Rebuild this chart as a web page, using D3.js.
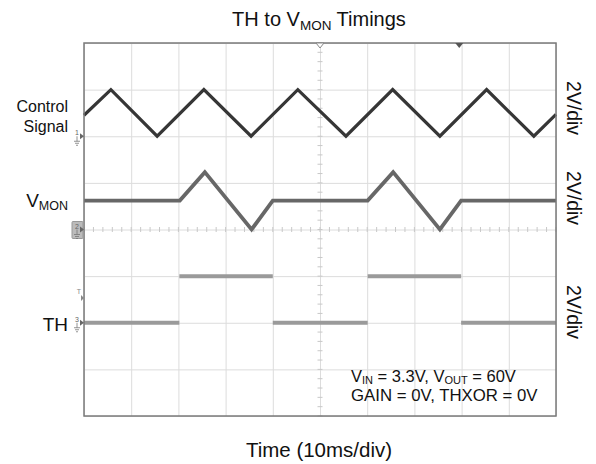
<!DOCTYPE html>
<html><head><meta charset="utf-8">
<script src="https://cdn.jsdelivr.net/npm/d3@7"></script>
<style>body{margin:0;background:#fff}svg{display:block;font-family:"Liberation Sans",Arial,sans-serif}</style>
</head><body><svg id="c" width="596" height="464"></svg>
<script>
// time in ms, voltage in V
const ctrlTime = [-50, -44.3, -34.5, -24.6, -14.6, -4.7, 5.5, 15.4, 25.4, 35.3, 45.3, 50];
const ctrlVolt = [0.9, 2, 0, 2, 0, 2, 0, 2, 0, 2, 0, 0.94];
const vmonTime = [-50, -29.7, -24.4, -14.5, -10, 10.1, 15.5, 25.4, 29.9, 50];
const vmonVolt = [1.24, 1.24, 2.46, 0, 1.24, 1.24, 2.46, 0, 1.24, 1.24];
const thTime = [-50, -29.8, -10, 10.1, 29.9, 50];
const thVolt = [0, 2, 0, 2, 0];
const xTicks = [-50, -40, -30, -20, -10, 0, 10, 20, 30, 40, 50];
const yTicks = [-4, -3, -2, -1, 0, 1, 2, 3, 4];
const channelOffsets = [2, 0, -2]; // divisions
const voltsPerDiv = 2;

const svg = d3.select("#c");
const L = 84, R = 556, T = 43, B = 416;
const x = d3.scaleLinear().domain([-50, 50]).range([L, R]);
const y = d3.scaleLinear().domain([-4, 4]).range([B, T]);

// grid
const g = svg.append("g");
g.append("g").attr("transform", `translate(0,${B})`)
  .call(d3.axisBottom(x).tickValues(xTicks).tickSize(-(B - T)).tickFormat(""))
  .call(s => s.select(".domain").remove())
  .call(s => s.selectAll("line").attr("stroke", "#dcdcdc").attr("stroke-width", 1));
g.append("g").attr("transform", `translate(${L},0)`)
  .call(d3.axisLeft(y).tickValues(yTicks).tickSize(-(R - L)).tickFormat(""))
  .call(s => s.select(".domain").remove())
  .call(s => s.selectAll("line").attr("stroke", "#dcdcdc").attr("stroke-width", 1));

// minor ticks on centre lines
const minorX = d3.range(-50, 50.01, 2);
g.selectAll(".mx").data(minorX).join("line")
  .attr("x1", d => x(d)).attr("x2", d => x(d))
  .attr("y1", y(0) - 2.5).attr("y2", y(0) + 2.5).attr("stroke", "#c8c8c8");
const minorY = d3.range(-4, 4.01, 0.2);
g.selectAll(".my").data(minorY).join("line")
  .attr("x1", x(0) - 2.5).attr("x2", x(0) + 2.5)
  .attr("y1", d => y(d)).attr("y2", d => y(d)).attr("stroke", "#c8c8c8");

// traces
const toY = ch => v => y(v / voltsPerDiv + channelOffsets[ch]);
function trace(times, volts, ch, color, w) {
  const pts = times.map((t, i) => [t, volts[i]]);
  const line = d3.line().x(d => x(d[0])).y(d => toY(ch)(d[1]));
  svg.append("path").datum(pts).attr("d", line).attr("fill", "none")
    .attr("stroke", color).attr("stroke-width", w).attr("stroke-linejoin", "miter");
}
// TH: digital levels, edges too fast to show
const thSegs = thVolt.map((v, i) => [[thTime[i], v], [thTime[i + 1], v]]);
svg.selectAll(".th").data(thSegs).join("path")
  .attr("d", d3.line().x(d => x(d[0])).y(d => toY(2)(d[1])))
  .attr("fill", "none").attr("stroke", "#9a9a9a").attr("stroke-width", 4);
trace(vmonTime, vmonVolt, 1, "#676767", 3.8);
trace(ctrlTime, ctrlVolt, 0, "#363636", 3.2);

// border
svg.append("rect").attr("x", L).attr("y", T).attr("width", R - L).attr("height", B - T)
  .attr("fill", "none").attr("stroke", "#7a7a7a").attr("stroke-width", 1.5);

// top markers
svg.append("path").attr("d", `M${x(0) - 4},${T} L${x(0) + 4},${T} L${x(0)},${T + 5} Z`)
  .attr("fill", "#fff").attr("stroke", "#888");
svg.append("path").attr("d", `M${x(29.5) - 4},${T} L${x(29.5) + 4},${T} L${x(29.5)},${T + 5} Z`)
  .attr("fill", "#555");

// ground markers
function gnd(ch, label, boxed) {
  const yy = y(channelOffsets[ch]);
  const gg = svg.append("g").attr("transform", `translate(${L},${yy})`);
  if (boxed) gg.append("rect").attr("x", -12).attr("y", -8).attr("width", 11).attr("height", 17)
    .attr("fill", "#bbb").attr("stroke", "#999").attr("rx", 1);
  gg.append("text").attr("x", -9).attr("y", -1).attr("font-size", 7).attr("fill", "#666").text(label);
  gg.append("path").attr("d", "M-4,-3 L0,0 L-4,3 Z").attr("fill", "#666");
  gg.append("path").attr("d", "M-7,0 V5 M-10,5 H-4 M-9,7 H-5 M-8,9 H-6").attr("stroke", "#777").attr("stroke-width", 0.8);
}
gnd(0, "1", false);
gnd(1, "2", true);
gnd(2, "3", false);
// T marker
svg.append("text").attr("x", L - 5).attr("y", 294).attr("font-size", 7).attr("fill", "#888").attr("text-anchor", "middle").text("T");
svg.append("path").attr("d", `M${L - 3},${295} L${L},${298} L${L - 3},${301} Z`).attr("fill", "#888");

// title
const title = svg.append("text").attr("x", 319).attr("y", 26).attr("text-anchor", "middle").attr("font-size", 20).attr("fill", "#111");
title.append("tspan").text("TH to V");
title.append("tspan").attr("font-size", 13.5).attr("dy", 4).text("MON");
title.append("tspan").attr("dy", -4).text(" Timings");

// x label
svg.append("text").attr("x", 319).attr("y", 457).attr("text-anchor", "middle").attr("font-size", 20.5).attr("fill", "#111").text("Time (10ms/div)");

// left labels
svg.append("text").attr("x", 68).attr("y", 112).attr("text-anchor", "end").attr("font-size", 16).attr("fill", "#111").text("Control");
svg.append("text").attr("x", 68).attr("y", 132).attr("text-anchor", "end").attr("font-size", 16).attr("fill", "#111").text("Signal");
const vm = svg.append("text").attr("x", 68).attr("y", 207).attr("text-anchor", "end").attr("font-size", 19).attr("fill", "#111");
vm.append("tspan").text("V");
vm.append("tspan").attr("font-size", 12.5).attr("dy", 3).text("MON");
svg.append("text").attr("x", 68).attr("y", 331).attr("text-anchor", "end").attr("font-size", 19).attr("fill", "#111").text("TH");

// right labels
[108, 198, 312].forEach(cy => {
  svg.append("text").attr("transform", `translate(567,${cy}) rotate(90)`).attr("text-anchor", "middle")
    .attr("font-size", 19.5).attr("fill", "#111").text("2V/div");
});

// annotation
const a1 = svg.append("text").attr("x", 351).attr("y", 382).attr("font-size", 16.5).attr("fill", "#111");
a1.append("tspan").text("V");
a1.append("tspan").attr("font-size", 11).attr("dy", 2).text("IN");
a1.append("tspan").attr("dy", -2).text(" = 3.3V, V");
a1.append("tspan").attr("font-size", 11).attr("dy", 2).text("OUT");
a1.append("tspan").attr("dy", -2).text(" = 60V");
svg.append("text").attr("x", 351).attr("y", 401).attr("font-size", 16.8).attr("fill", "#111").text("GAIN = 0V, THXOR = 0V");
</script></body></html>
